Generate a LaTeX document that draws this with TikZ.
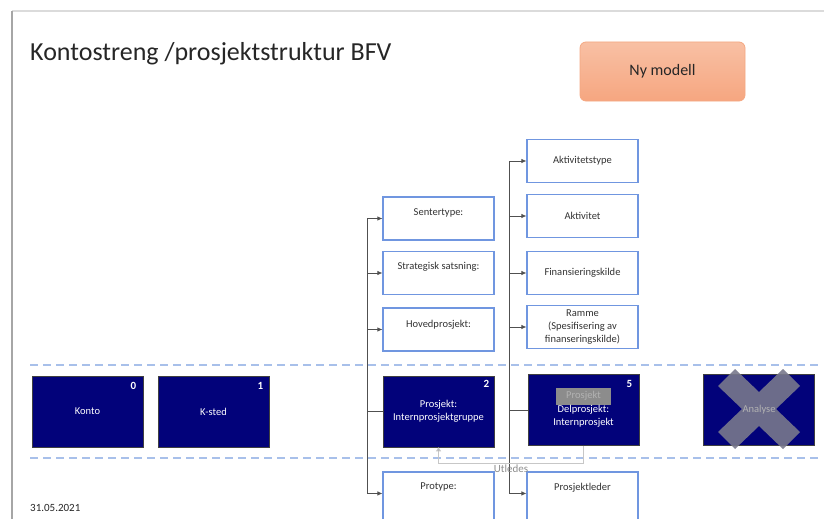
\documentclass[tikz,border=0pt]{standalone}
\usepackage{fontspec}
\setmainfont{Carlito}
\usetikzlibrary{arrows.meta,calc}

\definecolor{navy}{RGB}{2,2,122}
\definecolor{boxblue}{RGB}{112,150,224}
\definecolor{dashblue}{RGB}{168,192,234}
\definecolor{salmontop}{RGB}{248,192,164}
\definecolor{salmonbot}{RGB}{246,166,128}
\definecolor{salmonedge}{RGB}{244,168,130}
\definecolor{crossgray}{RGB}{120,120,140}
\definecolor{connline}{RGB}{80,80,80}

\tikzset{
  wbox/.style={draw=boxblue, line width=1.1pt, fill=white, minimum width=111pt,
    minimum height=43pt, inner sep=1pt, align=center, text=black!80,
    font=\fontsize{10.5}{13}\selectfont},
  tallbox/.style={wbox, minimum height=62pt},
  toptext/.style={inner sep=0pt, text=black!80, font=\fontsize{10.5}{13}\selectfont},
  nbox/.style={draw=black!75, line width=0.6pt, fill=navy, minimum width=111pt,
    minimum height=71pt, inner sep=1pt, align=center, text=white,
    font=\fontsize{10.5}{13}\selectfont},
  navytext/.style={inner sep=0pt, align=center, text=white,
    font=\fontsize{10.5}{13}\selectfont},
  numl/.style={inner sep=0pt, text=white, font=\fontsize{11}{13}\selectfont\bfseries},
  arr/.style={draw=connline, line width=0.8pt, -{Latex[length=5pt,width=4.5pt]}},
  link/.style={draw=connline, line width=0.8pt},
  utl/.style={draw=black!22, line width=0.8pt, -{Triangle[length=4pt,width=5pt,fill=black!30]}},
  ulbl/.style={anchor=north, inner sep=0.5pt, text=black!45, font=\fontsize{11}{13}\selectfont},
  level/.style={draw=dashblue, line width=1.6pt, dash pattern=on 8pt off 5pt},
}

\begin{document}
\begin{tikzpicture}[x=1pt,y=-1pt]
  \useasboundingbox (0,0) rectangle (824,519);
  \clip (0,0) rectangle (824,519);

  % slide edge with its shadow
  \fill[black!14] (12,10.5) rectangle (824,12.5);
  \fill[black!35] (10.5,11) rectangle (13,519);

  % heading and date
  \node[anchor=base west, inner sep=0pt, text=black!85,
        font=\fontsize{26}{30}\selectfont] (title) at (30,60)
        {Kontostreng /prosjektstruktur BFV};
  \node[anchor=base west, inner sep=0pt, text=black!85,
        font=\fontsize{11}{13}\selectfont] (date) at (30,511) {31.05.2021};

  % button
  \node[draw=salmonedge, line width=0.8pt, rounded corners=6pt,
        top color=salmontop, bottom color=salmonbot,
        minimum width=165pt, minimum height=59pt, text=black!85,
        font=\fontsize{16}{19}\selectfont] (ny) at (662.5,71.5) {Ny modell};

  % level band
  \draw[level] (30,365) -- (822,365);
  \draw[level] (30,458) -- (822,458);

  % segments of the account string
  \node[nbox] (konto) at (87.5,411.5) {Konto};
  \node[numl] (konto-n) at ($(konto.north east)+(-10,10)$) {0};
  \node[nbox] (ksted) at (213.5,411.5) {K-sted};
  \node[numl] (ksted-n) at ($(ksted.north east)+(-9,10)$) {1};
  \node[nbox] (p2) at (438.5,411.5) {Prosjekt:\\Internprosjektgruppe};
  \node[numl] (p2-n) at ($(p2.north east)+(-8,8)$) {2};
  \node[nbox] (p5) at (583.5,410) {};
  \node[numl] (p5-n) at ($(p5.north east)+(-10,10)$) {5};
  \node[fill=black!45, minimum width=55pt, minimum height=17pt, inner sep=0pt,
        text=black!30, font=\fontsize{10.5}{13}\selectfont]
        (p5-old) at ($(p5)+(0,-14)$) {Prosjekt};
  \node[navytext] (p5-t) at ($(p5)+(0,6.5)$) {Delprosjekt:\\Internprosjekt};
  \node[nbox] (ana) at (759,410) {};
  \fill[crossgray, opacity=0.9, shift={(759,409)}]
    (41,23) -- (24,40) -- (0,17) -- (-24,40) -- (-41,23) -- (-17,0) --
    (-41,-23) -- (-24,-40) -- (0,-17) -- (24,-40) -- (41,-23) -- (17,0) -- cycle;
  \node[inner sep=0pt, text=black!30, font=\fontsize{10.5}{13}\selectfont]
        (ana-t) at (759,410) {Analyse};

  % attributes of the project
  \node[wbox] (sen) at (438.5,218.5) {};
  \node[toptext] (sen-t) at ($(sen.north)+(0,16)$) {Sentertype:};
  \node[wbox] (str) at (438.5,273) {};
  \node[toptext] (str-t) at ($(str.north)+(0,16)$) {Strategisk satsning:};
  \node[wbox] (hov) at (438.5,329.5) {};
  \node[toptext] (hov-t) at ($(hov.north)+(0,17)$) {Hovedprosjekt:};
  \node[tallbox] (pro) at (438.5,503) {};
  \node[toptext] (pro-t) at ($(pro.north)+(0,16)$) {Protype:};

  % attributes of the sub-project
  \node[wbox] (akt) at (582.5,161) {Aktivitetstype};
  \node[wbox] (ak) at (582.5,216) {Aktivitet};
  \node[wbox] (fin) at (582.5,273) {Finansieringskilde};
  \node[wbox] (ram) at (582.5,327) {Ramme\\(Spesifisering av\\finanseringskilde)};
  \node[tallbox] (pl) at (582.5,503) {};
  \node[toptext] (pl-t) at ($(pl.north)+(0,16)$) {Prosjektleder};

  % connectors
  \foreach \t in {sen,str,hov}
    \draw[arr] (p2.west) -- ++(-15,0) |- (\t.west);
  \draw[arr] (p2.west) -- ++(-15,0) |- ($(pro.north west)+(0,22)$);
  \foreach \t in {akt,ak,fin,ram}
    \draw[arr] (p5.west) -- ++(-18,0) |- (\t.west);
  \draw[arr] (p5.west) -- ++(-18,0) |- ($(pl.north west)+(0,22)$);

  \draw[utl] (p5.south) -- ++(0,18) -| (p2.south)
    node[pos=0.25, ulbl] (utl-t) {Utledes};
\end{tikzpicture}
\end{document}
